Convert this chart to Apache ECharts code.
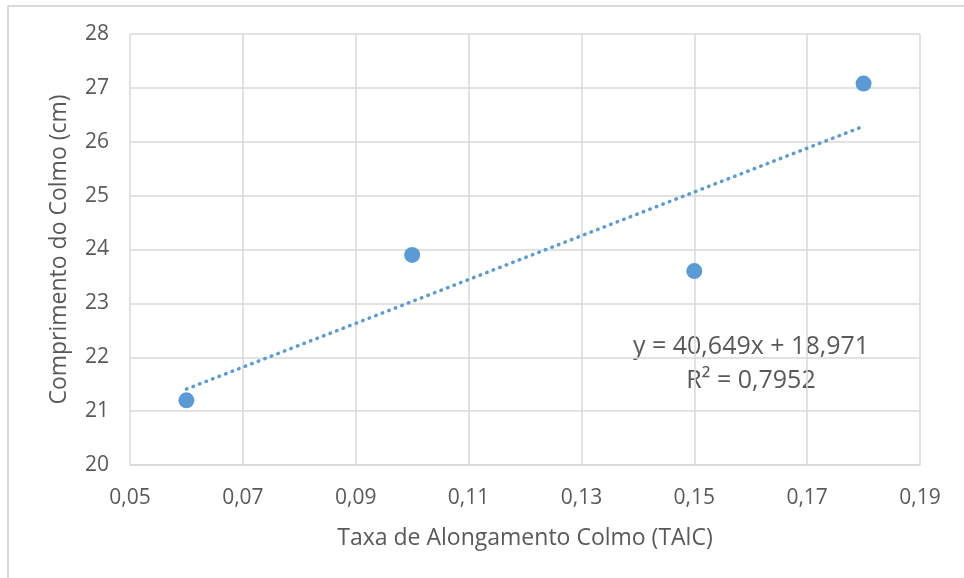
<!DOCTYPE html>
<html>
<head>
<meta charset="utf-8">
<script src="https://cdn.jsdelivr.net/npm/echarts@6/dist/echarts.min.js"></script>
<style>
html,body{margin:0;padding:0;background:#fff;}
#c{width:964px;height:578px;}
</style>
</head>
<body>
<div id="c"></div>
<script>
const xValues = [0.06, 0.10, 0.15, 0.18];
const yValues = [21.2, 23.9, 23.6, 27.08];
const trendSlope = 40.649;
const trendIntercept = 18.971;
const equationText = 'y = 40,649x + 18,971';
const r2Text = 'R² = 0,7952';
const xAxisTitle = 'Taxa de Alongamento Colmo (TAlC)';
const yAxisTitle = 'Comprimento do Colmo (cm)';

const FONT = 'Open Sans';
const TEXT = '#595959';
const GRID = '#d9d9d9';
const BLUE = '#5B9BD5';

const points = xValues.map((x, i) => [x, yValues[i]]);
const xMin = Math.min(...xValues), xMax = Math.max(...xValues);
const trend = [[xMin, trendSlope * xMin + trendIntercept], [xMax, trendSlope * xMax + trendIntercept]];

const chart = echarts.init(document.getElementById('c'));
chart.setOption({
  animation: false,
  backgroundColor: '#fff',
  grid: { left: 130, right: 44, top: 34, bottom: 113, containLabel: false },
  xAxis: {
    type: 'value', min: 0.05, max: 0.19, interval: 0.02,
    name: xAxisTitle, nameLocation: 'middle', nameGap: 62,
    nameTextStyle: { color: TEXT, fontFamily: FONT, fontSize: 23 },
    axisLine: { show: true, lineStyle: { color: GRID, width: 1.5 } },
    axisTick: { show: false },
    splitLine: { show: true, lineStyle: { color: GRID, width: 1.5 } },
    axisLabel: { color: TEXT, fontFamily: FONT, fontSize: 21, margin: 23,
      formatter: v => v.toFixed(2).replace('.', ',') }
  },
  yAxis: {
    type: 'value', min: 20, max: 28, interval: 1,
    name: yAxisTitle, nameLocation: 'middle', nameGap: 59, nameRotate: 90,
    nameTextStyle: { color: TEXT, fontFamily: FONT, fontSize: 23 },
    axisLine: { show: false },
    axisTick: { show: false },
    splitLine: { show: true, lineStyle: { color: GRID, width: 1.5 } },
    axisLabel: { color: TEXT, fontFamily: FONT, fontSize: 21, margin: 21 }
  },
  series: [
    {
      type: 'line', data: trend, symbol: 'none', silent: true,
      lineStyle: { color: BLUE, width: 3.5, type: [0.5, 6.5], cap: 'round', opacity: 1 },
      z: 2
    },
    {
      type: 'scatter', data: points, symbol: 'circle', symbolSize: 16,
      itemStyle: { color: BLUE, opacity: 1 }, z: 3
    }
  ],
  graphic: [
    { type: 'line', shape: { x1: 8, y1: 6, x2: 964, y2: 6 }, style: { stroke: '#d9d9d9', lineWidth: 2 } },
    { type: 'line', shape: { x1: 8, y1: 6, x2: 8, y2: 578 }, style: { stroke: '#d9d9d9', lineWidth: 2 } },
    { type: 'text', x: 751, y: 347,
      style: { text: equationText, fill: TEXT, font: '25px "Open Sans"', textAlign: 'center', textVerticalAlign: 'middle' } },
    { type: 'text', x: 751, y: 381,
      style: { text: r2Text, fill: TEXT, font: '25px "Open Sans"', textAlign: 'center', textVerticalAlign: 'middle' } }
  ]
});
</script>
</body>
</html>
